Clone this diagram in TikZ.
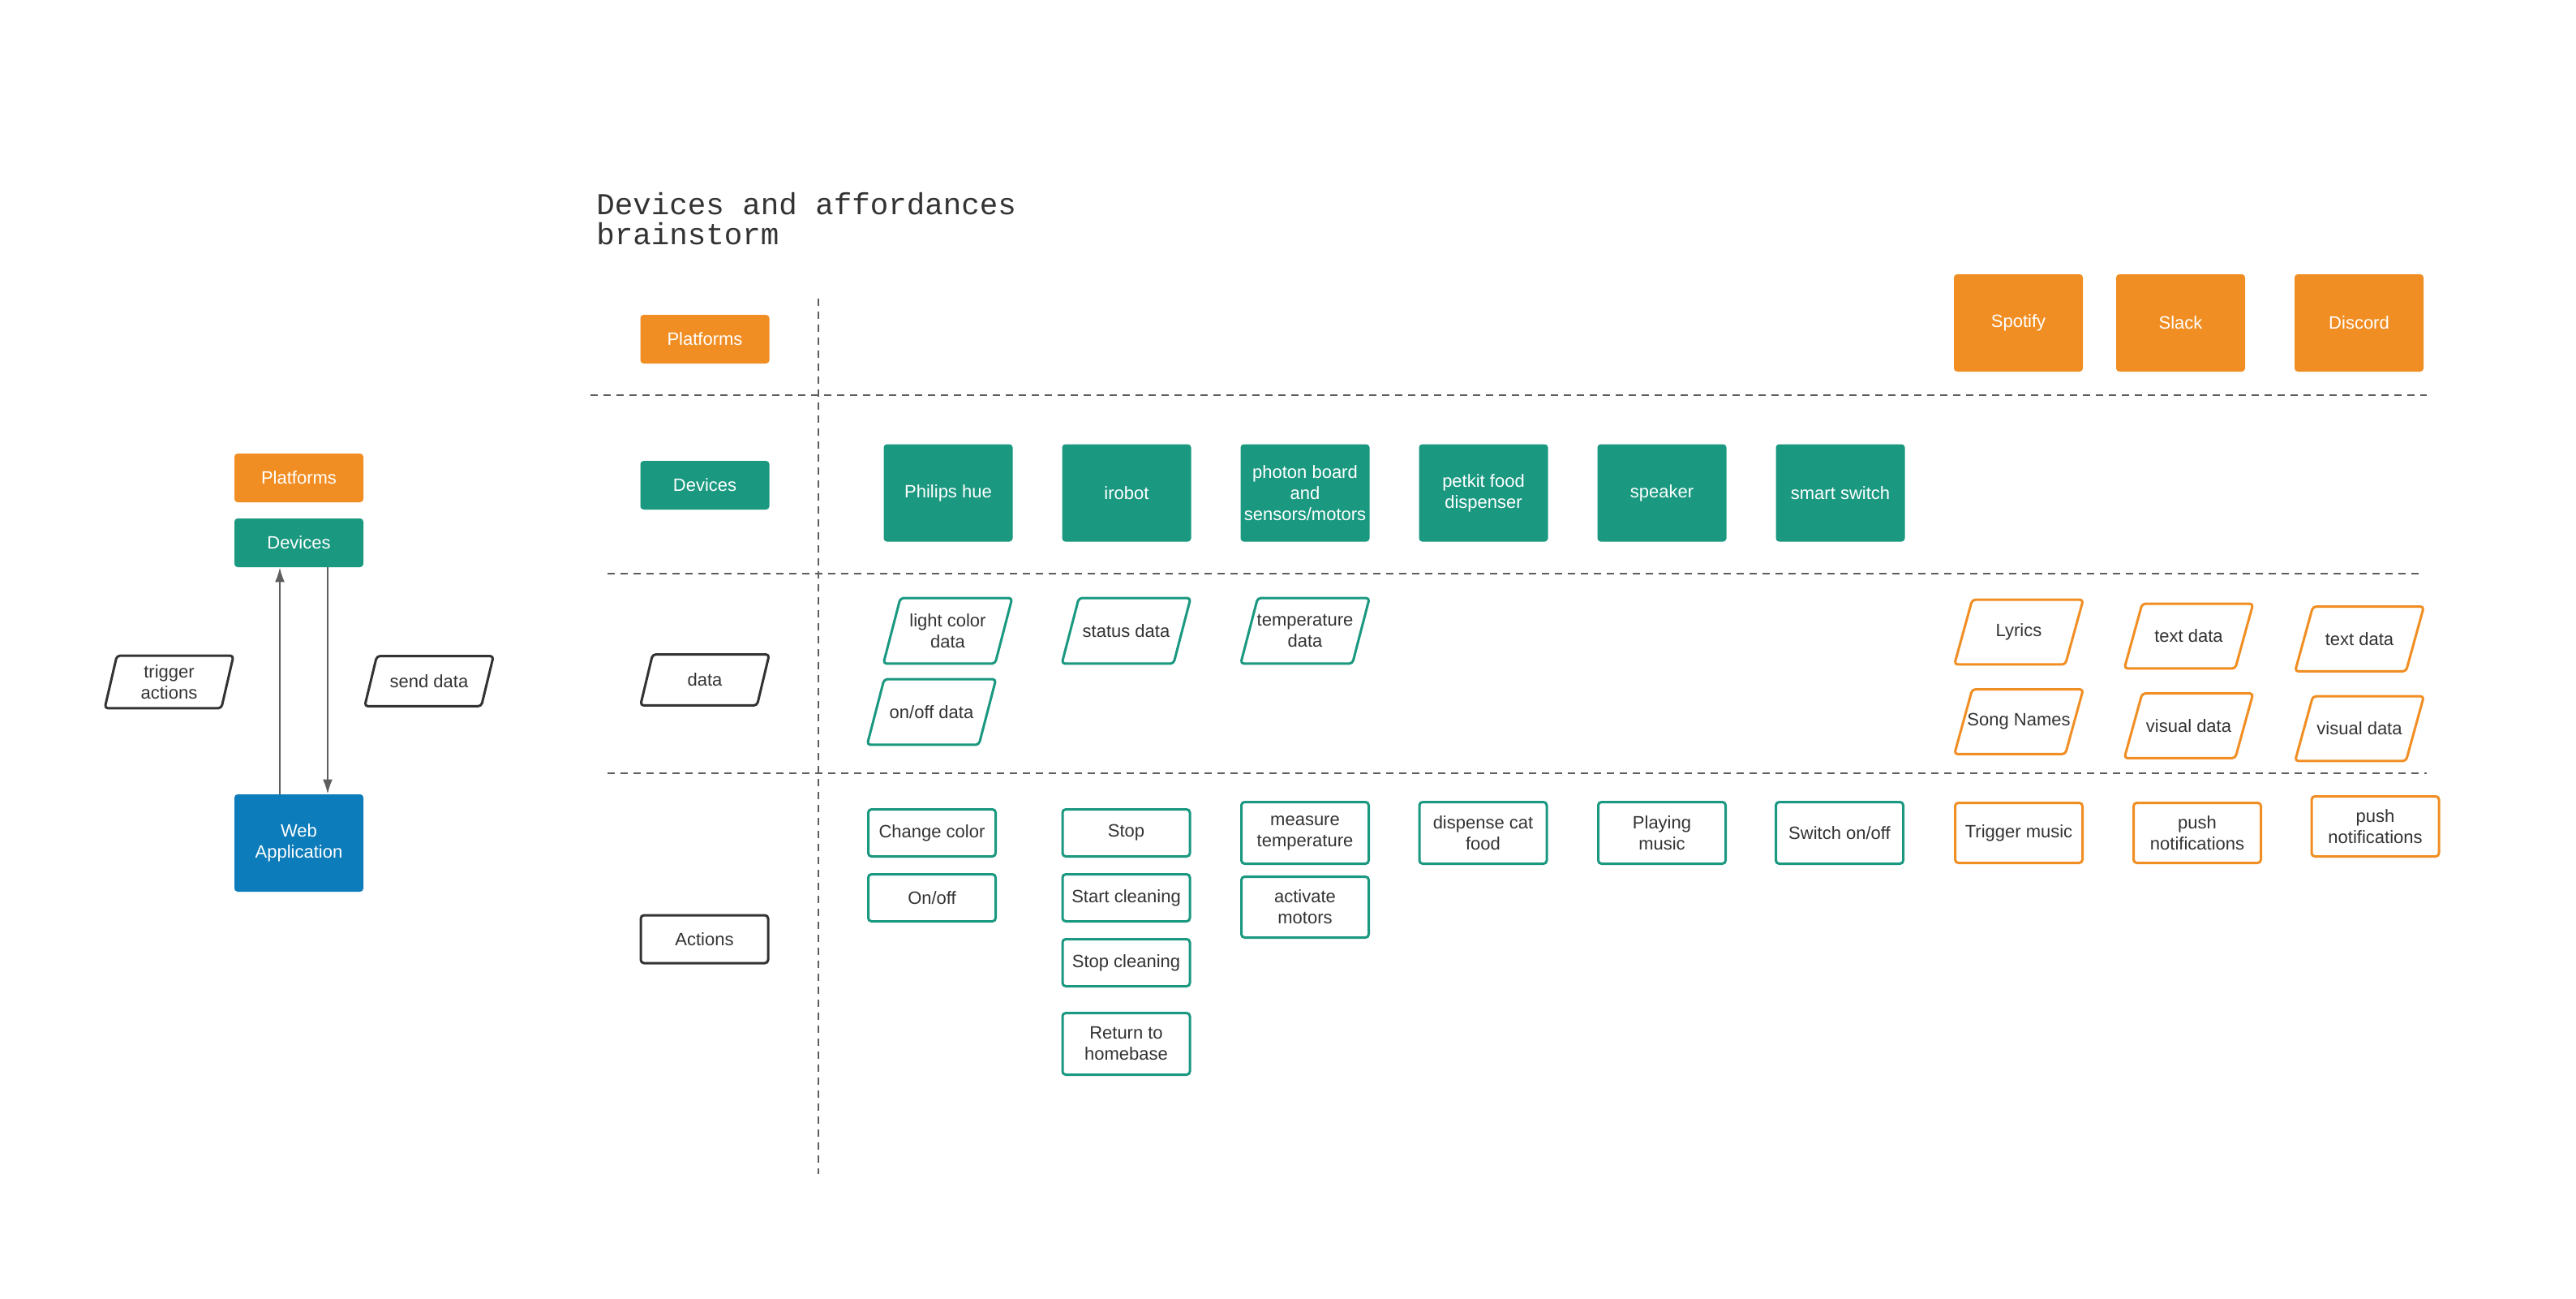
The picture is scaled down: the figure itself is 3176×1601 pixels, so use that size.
\documentclass[tikz,border=0pt]{standalone}
\usepackage{fontspec}
\setmainfont{Liberation Sans}
\newfontfamily\titlefont{Liberation Mono}
\usetikzlibrary{arrows.meta}

\definecolor{lucOrange}{RGB}{241,142,35}
\definecolor{lucTeal}{RGB}{26,152,128}
\definecolor{lucBlue}{RGB}{13,124,186}
\definecolor{ink}{RGB}{51,51,51}
\definecolor{rulegray}{RGB}{94,94,94}

\tikzset{
  every node/.style={font=\fontsize{11pt}{13pt}\selectfont, align=center, inner sep=1pt},
  filledbox/.style={rectangle, rounded corners=2pt, text=white, minimum width=79.5pt},
  platbox/.style={filledbox, fill=lucOrange},
  devbox/.style={filledbox, fill=lucTeal},
  webbox/.style={filledbox, fill=lucBlue},
  outbox/.style={rectangle, rounded corners=2pt, draw, line width=1.5pt, text=ink, fill=white, minimum width=78.5pt},
  actbox/.style={outbox, draw=lucTeal},
  platact/.style={outbox, draw=lucOrange},
  keybox/.style={outbox, draw=ink},
  % slanted data frame drawn round a plain node
  datashape/.style 2 args={rectangle, text=ink, minimum width=79pt,
    append after command={\pgfextra{\draw [draw=#1, line width=1.5pt, rounded corners=2pt, line join=round]
      ([xshift=#2]\tikzlastnode.north west) -- (\tikzlastnode.north east)
      -- ([xshift=-#2]\tikzlastnode.south east) -- (\tikzlastnode.south west) -- cycle;}}},
  devdata/.style={datashape={lucTeal}{10.5pt}, minimum height=40pt},
  platdata/.style={datashape={lucOrange}{11pt}, minimum height=39.5pt},
  keydata/.style={datashape={ink}{7.5pt}},
  divider/.style={draw=rulegray, line width=1pt, dash pattern=on 4.5pt off 3.5pt},
  flow/.style={draw=rulegray, line width=1pt, -{Latex[length=9pt,width=6pt]}},
}

\begin{document}
\begin{tikzpicture}[x=0.5pt,y=0.5pt,yscale=-1,xscale=1]
\useasboundingbox (0,0) rectangle (3176,1601);

% Title
\node [anchor=north west, inner sep=0pt, align=left, text=ink,
  font=\titlefont\fontsize{18.75pt}{18.5pt}\selectfont] (title) at (735,237) {Devices and affordances\\brainstorm};

% Grid lines
\draw [divider] (1009,368) -- (1009,1447);
\draw [divider] (728,487) -- (2992,487);
\draw [divider] (749,707) -- (2988,707);
\draw [divider] (749,953) -- (2992,953);

% Legend on the left
\node [platbox, minimum height=30pt] (lplat) at (368.5,589) {Platforms};
\node [devbox, minimum height=30pt] (ldev) at (368.5,669) {Devices};
\node [webbox, minimum height=60pt] (webapp) at (368.5,1039) {Web\\Application};
\node [keydata, minimum height=32pt] (trig) at (208.5,840.5) {trigger\\actions};
\node [keydata, minimum height=30.5pt] (send) at (529,839.5) {send data};

\draw [flow] ([xshift=-11.75pt]webapp.north) -- ([xshift=-11.75pt]ldev.south);
\draw [flow] ([xshift=17.75pt]ldev.south) -- ([xshift=17.75pt]webapp.north);

% Row labels
\node [platbox, minimum height=30pt] (platlbl) at (869,418) {Platforms};
\node [devbox, minimum height=30pt] (devlbl) at (869,598) {Devices};
\node [keydata, minimum height=31pt] (datalbl) at (869,838) {data};
\node [keybox, minimum height=29.5pt] (actlbl) at (868.5,1157.5) {Actions};

% Platforms
\node [platbox, minimum height=60pt] (spotify) at (2488.5,398) {Spotify};
\node [platbox, minimum height=60pt] (slack) at (2688.5,398) {Slack};
\node [platbox, minimum height=60pt] (discord) at (2908.5,398) {Discord};

% Devices
\node [devbox, minimum height=60pt] (hue) at (1169,607.5) {Philips hue};
\node [devbox, minimum height=60pt] (irobot) at (1389,607.5) {irobot};
\node [devbox, minimum height=60pt] (photon) at (1609,607.5) {photon board\\and\\sensors/motors};
\node [devbox, minimum height=60pt] (petkit) at (1829,607.5) {petkit food\\dispenser};
\node [devbox, minimum height=60pt] (speaker) at (2049,607.5) {speaker};
\node [devbox, minimum height=60pt] (switch) at (2269,607.5) {smart switch};

% Data
\node [devdata] (huedata) at (1168.5,777.5) {light color\\data};
\node [devdata] (onoffdata) at (1148.5,877.5) {on/off data};
\node [devdata] (statusdata) at (1388.5,777.5) {status data};
\node [devdata] (tempdata) at (1609,777.5) {temperature\\data};
\node [platdata] (lyrics) at (2489,779) {Lyrics};
\node [platdata] (songs) at (2489,889.5) {Song Names};
\node [platdata] (slacktext) at (2698.5,784) {text data};
\node [platdata] (slackvis) at (2698.5,894.5) {visual data};
\node [platdata] (disctext) at (2909,787.5) {text data};
\node [platdata] (discvis) at (2909,898) {visual data};

% Actions
\node [actbox, minimum height=29pt] (color) at (1149,1026.5) {Change color};
\node [actbox, minimum height=29pt] (onoff) at (1149,1106.5) {On/off};
\node [actbox, minimum height=29pt] (stop) at (1388.5,1026.5) {Stop};
\node [actbox, minimum height=29pt] (startclean) at (1388.5,1106.5) {Start cleaning};
\node [actbox, minimum height=29pt] (stopclean) at (1388.5,1186.5) {Stop cleaning};
\node [actbox, minimum height=38pt] (homebase) at (1388.5,1286.5) {Return to\\homebase};
\node [actbox, minimum height=38pt] (measure) at (1609,1026.5) {measure\\temperature};
\node [actbox, minimum height=37.5pt] (motors) at (1609,1118) {activate\\motors};
\node [actbox, minimum height=38pt] (dispense) at (1828.5,1026.5) {dispense cat\\food};
\node [actbox, minimum height=38pt] (playing) at (2049,1026.5) {Playing\\music};
\node [actbox, minimum height=38pt] (switchact) at (2268,1026.5) {Switch on/off};
\node [platact, minimum height=37pt] (trigmusic) at (2489,1026.5) {Trigger music};
\node [platact, minimum height=37pt] (slackpush) at (2709,1026.5) {push\\notifications};
\node [platact, minimum height=37pt] (discpush) at (2928.5,1018.5) {push\\notifications};

\end{tikzpicture}
\end{document}
